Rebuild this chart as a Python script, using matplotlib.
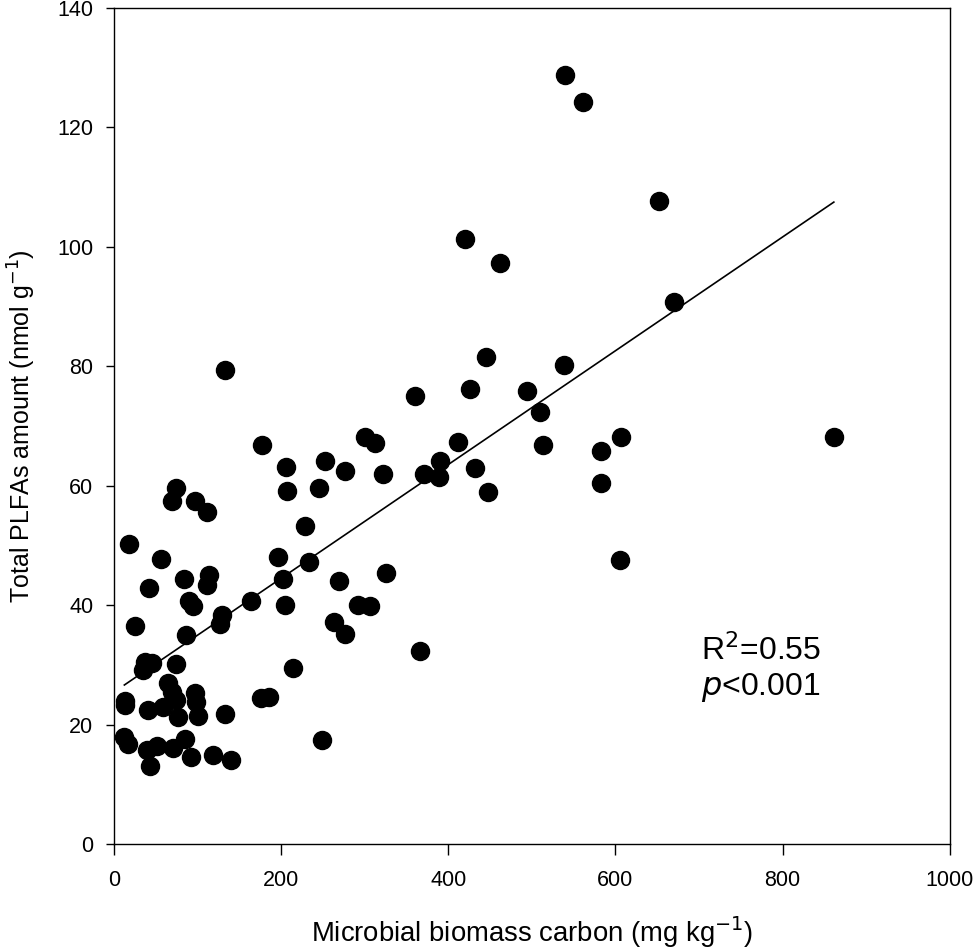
import numpy as np
import matplotlib.pyplot as plt

plt.rcParams['font.family'] = ['Liberation Sans', 'DejaVu Sans']

# Microbial biomass carbon (mg/kg) vs total PLFAs (nmol/g)
mbc = [12.3, 17, 38.9, 50.9, 70.7, 84.6, 91.8, 118.4, 140.3, 42.9,
       13, 13, 40.9, 58.8, 76.6, 64.7, 68.8, 74.6, 97.3, 98.4,
       100.5, 132.3, 36.9, 44.9, 34.9, 73.9, 176, 186, 213.7, 248.7,
       25, 129.5, 126.3, 85.8, 263.4, 276.5, 89.8, 94.5, 163.3, 204.6,
       292, 306.3, 42.1, 83.4, 113.6, 111.2, 201.8, 268.6, 325, 17.9,
       55.6, 195.9, 233.6, 366.7, 228.6, 69.5, 73.9, 96.5, 111.2, 206.6,
       244.7, 205.8, 252.7, 276.5, 300, 312.3, 321.8, 176.8, 132.3, 360.7,
       426.3, 445, 494.6, 509.7, 411.2, 513.7, 389.7, 370.7, 388.6, 432.3,
       447, 538.7, 583.3, 582.2, 607, 605.8, 539.5, 561.4, 652, 419.5,
       461.3, 670.6, 861.4]
plfa = [17.9, 16.7, 15.7, 16.4, 16.0, 17.6, 14.6, 14.9, 14.0, 13.0,
        24.0, 23.2, 22.4, 23.0, 21.3, 27.0, 25.5, 24.2, 25.3, 23.8,
        21.4, 21.8, 30.5, 30.3, 29.1, 30.2, 24.5, 24.6, 29.4, 17.4,
        36.5, 38.3, 36.9, 35.0, 37.2, 35.1, 40.7, 39.8, 40.7, 40.1,
        40.0, 39.8, 42.8, 44.4, 45.1, 43.4, 44.4, 44.0, 45.4, 50.2,
        47.7, 48.0, 47.3, 32.3, 53.2, 57.4, 59.6, 57.5, 55.6, 59.1,
        59.7, 63.1, 64.2, 62.4, 68.1, 67.2, 62.0, 66.9, 79.4, 75.1,
        76.2, 81.5, 75.8, 72.3, 67.3, 66.9, 64.2, 62.0, 61.5, 63.0,
        58.9, 80.2, 65.9, 60.4, 68.1, 47.6, 128.7, 124.3, 107.7, 101.3,
        97.3, 90.7, 68.1]

x = np.array(mbc)
y = np.array(plfa)

# Regresion lineal
slope, intercept = np.polyfit(x, y, 1)
xfit = np.array([x.min(), x.max()])
yfit = slope * xfit + intercept

fig = plt.figure(figsize=(9.75, 9.52), dpi=100)
ax = fig.add_axes([0.117, 0.1134, 0.857, 0.8782])

ax.plot(xfit, yfit, color='black', linewidth=1.2, zorder=2)
ax.plot(x, y, 'o', color='black', markersize=13, zorder=3)

ax.set_xlim(0, 1000)
ax.set_ylim(0, 140)
ax.set_xticks(np.arange(0, 1001, 200))
ax.set_yticks(np.arange(0, 141, 20))
ax.tick_params(direction='out', width=1, labelsize=15.5)
ax.tick_params(axis='x', length=8, pad=11)
ax.tick_params(axis='y', length=6, pad=9)
for s in ax.spines.values():
    s.set_linewidth(1.0)

ax.set_xlabel('Microbial biomass carbon (mg kg$^{-1}$)', fontsize=19.8, labelpad=16)
ax.set_ylabel('Total PLFAs amount (nmol g$^{-1}$)', fontsize=18, labelpad=14)

ax.text(702, 30.8, 'R$^2$=0.55', fontsize=23, ha='left', va='baseline')
ax.text(702, 24.9, '$p$<0.001', fontsize=23, ha='left', va='baseline')

plt.savefig('out.png', dpi=100)
